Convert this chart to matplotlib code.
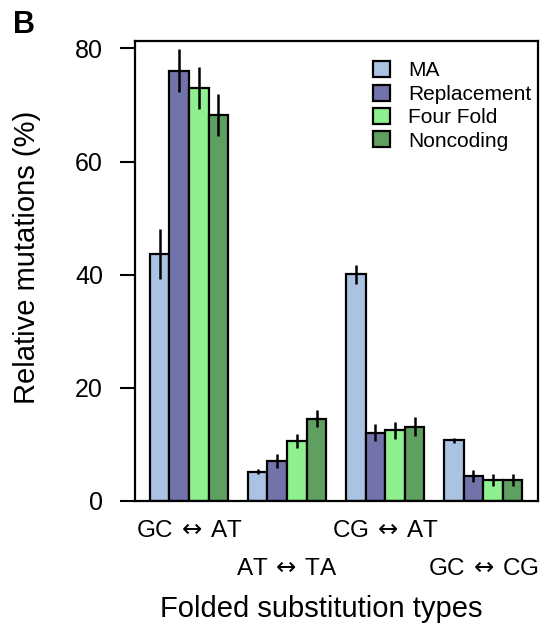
import numpy as np
import matplotlib.pyplot as plt
from matplotlib.patches import Patch

plt.rcParams['font.family'] = ['Liberation Sans', 'DejaVu Sans']

# Substitution types (x groups) and series.
groups = [r'GC$\,\leftrightarrow\,$AT', r'AT$\,\leftrightarrow\,$TA',
          r'CG$\,\leftrightarrow\,$AT', r'GC$\,\leftrightarrow\,$CG']
series = ['MA', 'Replacement', 'Four Fold', 'Noncoding']

# Relative mutations (%), one list per series, one value per group.
ma = [43.7, 5.2, 40.1, 10.7]
replacement = [76.1, 7.1, 12.1, 4.4]
four_fold = [73.0, 10.6, 12.5, 3.7]
noncoding = [68.2, 14.5, 13.1, 3.7]

# Half-width of the error bars.
ma_err = [4.4, 0.4, 1.7, 0.5]
replacement_err = [3.8, 1.2, 1.5, 1.1]
four_fold_err = [3.7, 1.3, 1.5, 1.0]
noncoding_err = [3.7, 1.5, 1.7, 1.0]

colors = ['#abc3e3', '#7373ab', '#8ff08f', '#5f9f5f']

values = [ma, replacement, four_fold, noncoding]
errors = [ma_err, replacement_err, four_fold_err, noncoding_err]

fig = plt.figure(figsize=(5.41, 6.27), dpi=100)
ax = fig.add_axes([0.2495, 0.201, 0.745, 0.7334])

# R-style barplot: 4 bars per group, one empty unit between groups.
n_series = len(series)
group_start = 1 + np.arange(len(groups)) * (n_series + 1)
for i, (vals, errs, col) in enumerate(zip(values, errors, colors)):
    x = group_start + i + 0.5
    ax.bar(x, vals, width=1.0, color=col, edgecolor='black', linewidth=1.6, zorder=2)
    ax.errorbar(x, vals, yerr=errs, fmt='none', ecolor='black', elinewidth=1.8,
                capsize=0, zorder=3)

ax.set_xlim(0.24, 20.8)
ax.set_ylim(0, 81.3)

ax.set_yticks([0, 20, 40, 60, 80])
ax.tick_params(axis='y', length=11, width=1.5, pad=12, labelsize=18)

centers = group_start + n_series / 2
ax.set_xticks(centers)
ax.set_xticklabels(groups, fontsize=17.5)
ax.tick_params(axis='x', length=0)
for k, tick in enumerate(ax.xaxis.get_major_ticks()):
    tick.set_pad(14 if k % 2 == 0 else 41)

for sp in ax.spines.values():
    sp.set_linewidth(1.6)

fig.text((160 + 482) / 2 / 541, 1 - 617 / 627, 'Folded substitution types',
         fontsize=21, ha='center', va='baseline')
fig.text(27 / 541, 1 - 257 / 627, 'Relative mutations (%)', fontsize=21,
         rotation=90, ha='center', va='center')
fig.text(13 / 541, 1 - 33 / 627, 'B', fontsize=22, fontweight='bold',
         ha='left', va='baseline')

handles = [Patch(facecolor=c, edgecolor='black', linewidth=1.6) for c in colors]
ax.legend(handles, series, loc='upper left', bbox_to_anchor=(0.545, 0.997),
          frameon=False, fontsize=15, handlelength=0.8, handleheight=0.8,
          handletextpad=0.85, labelspacing=0.2)

fig.savefig('out.png', dpi=100)
